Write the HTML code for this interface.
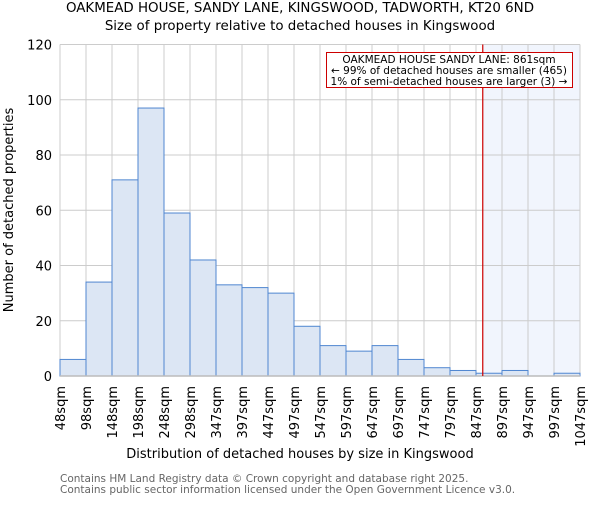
<!DOCTYPE html>
<html><head><meta charset="utf-8"><style>
body{margin:0;background:#fff}
svg text{font-family:"DejaVu Sans","Liberation Sans",sans-serif}
</style></head><body>
<svg id="c" width="600" height="500" xmlns="http://www.w3.org/2000/svg">
<text x="300" y="12" text-anchor="middle" font-size="13.4">OAKMEAD HOUSE, SANDY LANE, KINGSWOOD, TADWORTH, KT20 6ND</text>
<text x="300" y="30" text-anchor="middle" font-size="13.4">Size of property relative to detached houses in Kingswood</text>
<g id="grid"></g>
<g id="bars"></g>
<g id="ticks"></g>
<text x="300" y="458" text-anchor="middle" font-size="13">Distribution of detached houses by size in Kingswood</text>
<text transform="translate(13,210) rotate(-90)" text-anchor="middle" font-size="13">Number of detached properties</text>
<text x="60" y="482" font-size="10.5" fill="#666">Contains HM Land Registry data © Crown copyright and database right 2025.</text>
<text x="60" y="493" font-size="10.5" fill="#666">Contains public sector information licensed under the Open Government Licence v3.0.</text>
</svg>
<script>
const categories=["48sqm","98sqm","148sqm","198sqm","248sqm","298sqm","347sqm","397sqm","447sqm","497sqm","547sqm","597sqm","647sqm","697sqm","747sqm","797sqm","847sqm","897sqm","947sqm","997sqm","1047sqm"];
const counts=[6,34,71,97,59,42,33,32,30,18,11,9,11,6,3,2,1,2,0,1];
const yTicks=[0,20,40,60,80,100,120];
const binStart=48, binWidth=50, propertySize=861;
const L=60,R=580,T=44.5,B=376,yMax=120;
const NS="http://www.w3.org/2000/svg";
const xs=v=>L+(v-binStart)/(binWidth*counts.length)*(R-L);
const ys=v=>B-v/yMax*(B-T);
function mk(tag,attrs,parent,txt){const e=document.createElementNS(NS,tag);for(const k in attrs)e.setAttribute(k,attrs[k]);if(txt!==undefined)e.textContent=txt;parent.appendChild(e);return e;}
const grid=document.getElementById('grid'),bars=document.getElementById('bars'),ticks=document.getElementById('ticks');
let hl=mk('rect',{x:xs(propertySize),y:T,width:R-xs(propertySize),height:B-T,fill:'#eef3fc',opacity:0.8},grid);


yTicks.forEach(t=>{
  const l=mk('line',{x1:L,x2:R,y1:ys(t),y2:ys(t),stroke:'#ccc'},grid);
  
  
  const tx=mk('text',{x:L-8,y:ys(t)+5,'text-anchor':'end','font-size':13},ticks,String(t));
  
  
});
categories.forEach((c,i)=>{
  const x=xs(binStart+i*binWidth);
  const l=mk('line',{x1:x,x2:x,y1:T,y2:B,stroke:'#ccc'},grid);
  
  
  const tx=mk('text',{transform:`translate(${x+5},386) rotate(-90)`,'text-anchor':'end','font-size':13},ticks,c);
  
  
});
counts.forEach((v,i)=>{
  const x0=xs(binStart+i*binWidth),x1=xs(binStart+(i+1)*binWidth);
  if(v<=0)return;
  const r=mk('rect',{x:x0,y:ys(v),width:x1-x0,height:B-ys(v),fill:'#dce6f4',stroke:'#4f86d0','stroke-width':1},bars);
  
  
});
const ax=mk('line',{x1:L,x2:R,y1:B,y2:B,stroke:'#bbb','stroke-width':1.5},bars);


const pl=mk('line',{x1:xs(propertySize),x2:xs(propertySize),y1:T,y2:B,stroke:'#c00','stroke-width':1.2},bars);


const box=mk('rect',{x:326.5,y:52.5,width:246,height:35,fill:'#fff',stroke:'#c00'},bars);


[["OAKMEAD HOUSE SANDY LANE: 861sqm",63],["← 99% of detached houses are smaller (465)",74],["1% of semi-detached houses are larger (3) →",85]].forEach(([s,y])=>{
  const t=mk('text',{x:449,y:y,'text-anchor':'middle','font-size':10.5},bars,s);
  
  
});
</script>
</body></html>
